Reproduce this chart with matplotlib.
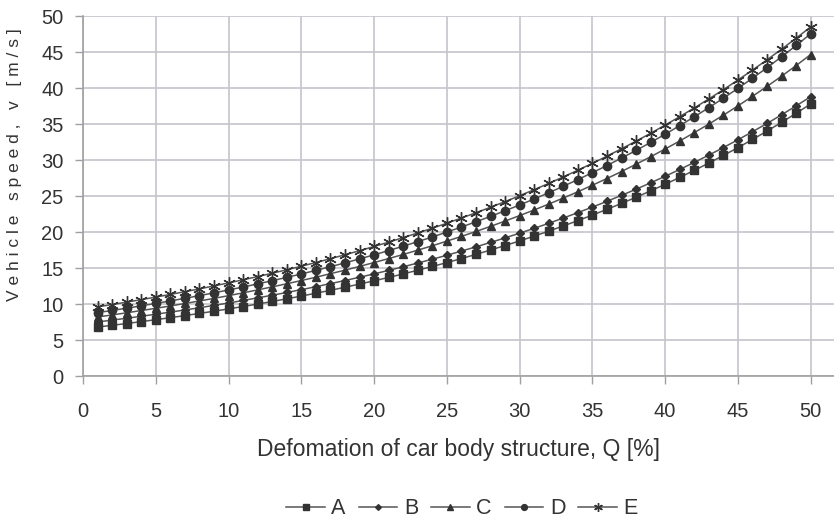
import matplotlib
matplotlib.use("Agg")
import matplotlib.pyplot as plt

plt.rcParams['font.family'] = ['Liberation Sans', 'DejaVu Sans']

Q = list(range(1, 51))

A = [6.80, 7.04, 7.29, 7.55, 7.82, 8.10, 8.39, 8.69, 9.00, 9.32,
     9.65, 9.99, 10.35, 10.72, 11.10, 11.50, 11.90, 12.33, 12.77, 13.22,
     13.69, 14.18, 14.69, 15.21, 15.75, 16.31, 16.89, 17.50, 18.12, 18.76,
     19.43, 20.12, 20.84, 21.58, 22.35, 23.15, 23.97, 24.83, 25.71, 26.63,
     27.58, 28.56, 29.57, 30.63, 31.72, 32.85, 34.02, 35.23, 36.49, 37.79]

B = [7.50, 7.76, 8.02, 8.29, 8.58, 8.87, 9.17, 9.48, 9.81, 10.14,
     10.49, 10.85, 11.22, 11.60, 11.99, 12.40, 12.83, 13.26, 13.72, 14.18,
     14.67, 15.17, 15.69, 16.22, 16.77, 17.35, 17.94, 18.55, 19.18, 19.84,
     20.51, 21.21, 21.94, 22.69, 23.46, 24.26, 25.09, 25.94, 26.83, 27.74,
     28.69, 29.67, 30.68, 31.73, 32.81, 33.93, 35.08, 36.28, 37.52, 38.80]

C = [8.20, 8.48, 8.78, 9.09, 9.40, 9.73, 10.07, 10.42, 10.78, 11.16,
     11.55, 11.96, 12.38, 12.81, 13.26, 13.72, 14.21, 14.70, 15.22, 15.76,
     16.31, 16.88, 17.48, 18.09, 18.73, 19.39, 20.07, 20.78, 21.52, 22.28,
     23.06, 23.88, 24.72, 25.59, 26.50, 27.43, 28.40, 29.41, 30.45, 31.53,
     32.64, 33.80, 34.99, 36.23, 37.52, 38.85, 40.22, 41.65, 43.12, 44.65]

D = [8.80, 9.10, 9.42, 9.74, 10.08, 10.43, 10.79, 11.16, 11.55, 11.95,
     12.36, 12.79, 13.24, 13.70, 14.17, 14.67, 15.18, 15.71, 16.26, 16.83,
     17.42, 18.03, 18.66, 19.31, 19.99, 20.69, 21.42, 22.17, 22.95, 23.75,
     24.59, 25.45, 26.35, 27.28, 28.24, 29.23, 30.27, 31.33, 32.44, 33.58,
     34.77, 36.00, 37.27, 38.59, 39.95, 41.36, 42.82, 44.34, 45.91, 47.53]

E = [9.60, 9.92, 10.26, 10.60, 10.96, 11.33, 11.71, 12.10, 12.51, 12.93,
     13.36, 13.81, 14.27, 14.75, 15.25, 15.76, 16.29, 16.84, 17.40, 17.99,
     18.59, 19.22, 19.87, 20.53, 21.22, 21.94, 22.67, 23.44, 24.22, 25.04,
     25.88, 26.75, 27.65, 28.58, 29.54, 30.53, 31.56, 32.62, 33.71, 34.85,
     36.02, 37.23, 38.48, 39.77, 41.11, 42.49, 43.92, 45.39, 46.92, 48.49]

series_names = ["A", "B", "C", "D", "E"]
series_values = [A, B, C, D, E]
markers = ["s", "D", "^", "o", (6, 2, 0)]
msizes = [5.5, 4.2, 6, 6, 9]

xticks = list(range(0, 51, 5))
yticks = list(range(0, 51, 5))

fig = plt.figure(figsize=(8.34, 5.21), dpi=100)
ax = fig.add_axes([83 / 834, 1 - 376 / 521, 1 - 83 / 834, (376 - 16) / 521])

line_col = "#555555"
mark_col = "#333333"
for name, vals, m, ms in zip(series_names, series_values, markers, msizes):
    ax.plot(Q, vals, color=line_col, lw=1.1, marker=m, markersize=ms,
            markerfacecolor=mark_col, markeredgecolor=mark_col,
            markeredgewidth=1.0, label=name, zorder=3)

ax.set_xlim(0, 51.6)
ax.set_ylim(0, 50)
ax.set_xticks(xticks)
ax.set_yticks(yticks)
ax.grid(True, color="#c4c4cc", lw=1.2, zorder=0)
for s in ["top", "right"]:
    ax.spines[s].set_visible(False)
for s in ["left", "bottom"]:
    ax.spines[s].set_color("#a0a0a0")
    ax.spines[s].set_linewidth(1.2)
ax.tick_params(axis="both", colors="#a0a0a0", labelcolor="#333333",
               length=6, width=1.0, labelsize=14.5)
ax.tick_params(axis="x", pad=13)
ax.tick_params(axis="y", pad=8)

ax.set_xlabel("Defomation of car body structure, Q [%]", fontsize=16.5,
              color="#333333", labelpad=12)
fig.text(15 / 834, 1 - 165 / 521, "V e h i c l e   s p e e d ,   v   [ m / s ]",
         rotation=90, ha="center", va="center", fontsize=12.5, color="#333333")

handles, labels = ax.get_legend_handles_labels()
fig.legend(handles, labels, loc="center", bbox_to_anchor=(462 / 834, 1 - 509 / 521),
           ncol=5, frameon=False, fontsize=15.5, handlelength=1.8, markerscale=0.7,
           columnspacing=0.6, handletextpad=0.3, numpoints=1, labelcolor="#333333")

fig.savefig("out.png", dpi=100)
